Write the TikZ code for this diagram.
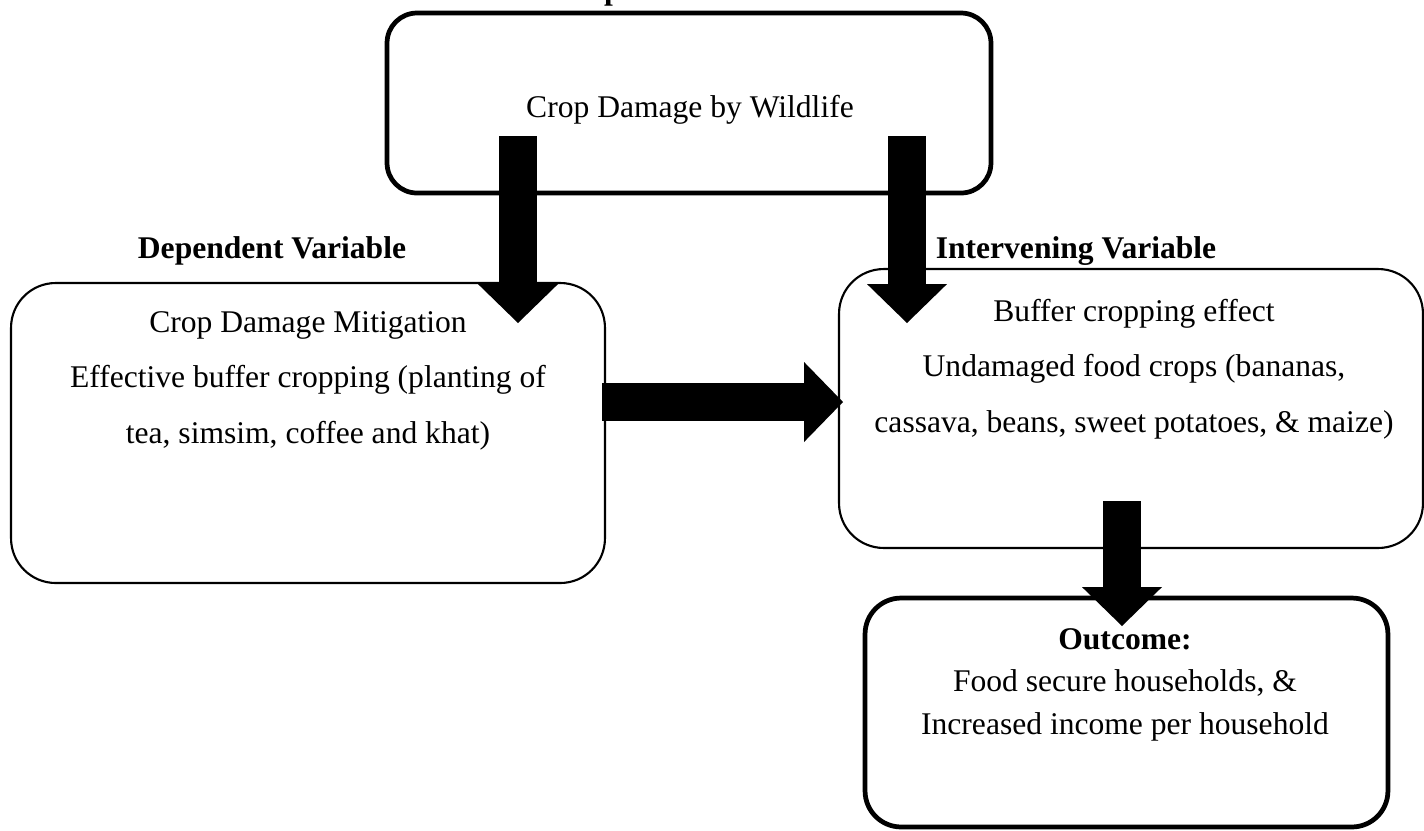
\documentclass[tikz,border=0pt]{standalone}
\usepackage{fontspec}
\setmainfont{Liberation Serif}
\usetikzlibrary{arrows.meta, positioning, calc}

\begin{document}
\begin{tikzpicture}[
    x = 0.38pt, y = -0.38pt,
    every node/.style = {font=\fontsize{12}{14}\selectfont, inner sep=0pt},
    varbox/.style   = {draw, rectangle, line width=0.8pt, rounded corners=17pt},
    heavybox/.style = {draw, rectangle, line width=1.8pt},
    head/.style     = {font=\fontsize{12}{14}\selectfont\bfseries, anchor=base},
    body/.style     = {align=center, anchor=base},
    bigarr/.style   = {line width=14.4pt,
                       -{Triangle[length=14.8pt, width=30.4pt, line width=0pt]}},
]
\useasboundingbox (0,0) rectangle (1424,830);

%% Independent variable (top)
\node[heavybox, rounded corners=11.4pt, minimum width=229.5pt, minimum height=68.4pt]
    (wild) at (689,103) {};
\node[head] (indep) at (689,-1) {Independent Variable};
\node[body] (wildtxt) at (690,117) {Crop Damage by Wildlife};

%% Dependent variable (left)
\node[varbox, minimum width=225.7pt, minimum height=114pt] (dep) at (308,433) {};
\node[head] (deplab) at (272,258) {Dependent Variable};
\node[body, font=\fontsize{12}{21}\selectfont] (deptxt) at (308,443)
    {Crop Damage Mitigation\\Effective buffer cropping (planting of\\tea, simsim, coffee and khat)};

%% Intervening variable (right)
\node[varbox, minimum width=221.9pt, minimum height=106pt] (inter) at (1131,408.5) {};
\node[head] (interlab) at (1076,258) {Intervening Variable};
\node[body, font=\fontsize{12}{21}\selectfont] (intertxt) at (1134,432)
    {Buffer cropping effect\\Undamaged food crops (bananas,\\cassava, beans, sweet potatoes, \& maize)};

%% Outcome
\node[heavybox, rounded corners=13.7pt, minimum width=198.7pt, minimum height=87pt]
    (out) at (1126.5,712.5) {};
\node[body, font=\fontsize{12}{16}\selectfont] (outtxt) at (1125,734)
    {\textbf{Outcome:}\\Food secure households, \&\\Increased income per household};

%% Block arrows
\coordinate (w1) at (518,136);
\coordinate (w2) at (907,136);
\coordinate (d1) at (518,323);
\coordinate (i1) at (907,323);
\coordinate (dr) at (602,402);
\coordinate (ir) at (843,402);
\coordinate (ib) at (1122,501);
\coordinate (ot) at (1122,626);

\draw[bigarr] (w1) -- (d1);
\draw[bigarr] (w2) -- (i1);
\draw[bigarr] (dr) -- (ir);
\draw[bigarr] (ib) -- (ot);

\end{tikzpicture}
\end{document}
